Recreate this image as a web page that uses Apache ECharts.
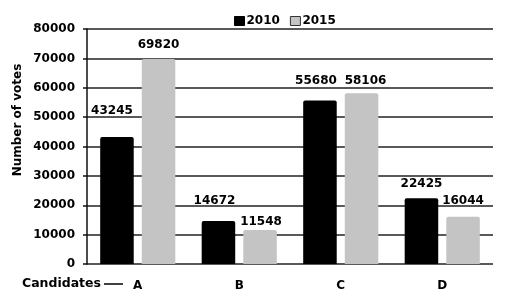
<!DOCTYPE html>
<html><head><meta charset="utf-8">
<script src="https://cdn.jsdelivr.net/npm/echarts@6/dist/echarts.min.js"></script>
<style>html,body{margin:0;padding:0;background:#fff}#c{width:515px;height:305px}</style>
</head><body><div id="c"></div>
<script>
var categories = ['A', 'B', 'C', 'D'];
var votes2010 = [43245, 14672, 55680, 22425];
var votes2015 = [69820, 11548, 58106, 16044];
var yTicks = [0, 10000, 20000, 30000, 40000, 50000, 60000, 70000, 80000];

// label placement tweaks (styling only): [dx, dy]
var off2010 = [[-5, -20], [-4, -14], [-4, -14], [0, -8]];
var off2015 = [[0, -8], [1, -2], [4, -6], [0, -10]];

var F = 'DejaVu Sans';
var labelStyle = {show: true, position: 'top', distance: 0, color: '#000', fontFamily: F, fontWeight: 'bold', fontSize: 12};
function mk(vals, offs) {
  return vals.map(function (v, i) {
    return {value: v, label: Object.assign({}, labelStyle, {offset: offs[i]})};
  });
}
var chart = echarts.init(document.getElementById('c'), null, {renderer: 'canvas'});
chart.setOption({
  animation: false,
  backgroundColor: '#fff',
  grid: {left: 87, right: 22, top: 29, bottom: 41},
  legend: {
    top: 10, left: 229,
    itemWidth: 10, itemHeight: 9, itemGap: 10,
    textStyle: {fontFamily: F, fontWeight: 'bold', fontSize: 12, color: '#000', padding: [0, 0, 0, -3]},
    data: [
      {name: '2010', icon: 'rect', itemStyle: {color: '#000', borderColor: '#000', borderWidth: 1}},
      {name: '2015', icon: 'rect', itemStyle: {color: '#c4c4c4', borderColor: '#333', borderWidth: 1}}
    ]
  },
  xAxis: {
    type: 'category', data: categories,
    axisLine: {show: false}, axisTick: {show: false},
    axisLabel: {color: '#000', fontFamily: F, fontWeight: 'bold', fontSize: 12, margin: 16}
  },
  yAxis: {
    type: 'value', min: yTicks[0], max: yTicks[yTicks.length - 1], interval: yTicks[1] - yTicks[0],
    axisLine: {show: true, lineStyle: {color: '#111', width: 1.5}},
    axisTick: {show: true, length: 4, lineStyle: {color: '#111', width: 1.5}},
    splitLine: {lineStyle: {color: '#222', width: 1.5}},
    axisLabel: {color: '#000', fontFamily: F, fontWeight: 'bold', fontSize: 12, margin: 12,
      formatter: function (v) { return String(v); }}
  },
  series: [
    {name: '2010', type: 'bar', data: mk(votes2010, off2010), barGap: '24%', barCategoryGap: '26%',
     itemStyle: {color: '#000', borderRadius: [2, 2, 0, 0]}},
    {name: '2015', type: 'bar', data: mk(votes2015, off2015),
     itemStyle: {color: '#c4c4c4', borderRadius: [2, 2, 0, 0]}}
  ],
  graphic: [
    {type: 'text', x: 18, y: 120, rotation: Math.PI / 2,
     style: {text: 'Number of votes', fontFamily: F, fontWeight: 'bold', fontSize: 12, fill: '#000', align: 'center', verticalAlign: 'middle'}},
    {type: 'text', x: 22, y: 284,
     style: {text: 'Candidates', fontFamily: F, fontWeight: 'bold', fontSize: 12.5, fill: '#000', align: 'left', verticalAlign: 'middle'}},
    {type: 'line', shape: {x1: 104, y1: 284, x2: 123, y2: 284}, style: {stroke: '#000', lineWidth: 1.5}}
  ]
});
</script></body></html>
